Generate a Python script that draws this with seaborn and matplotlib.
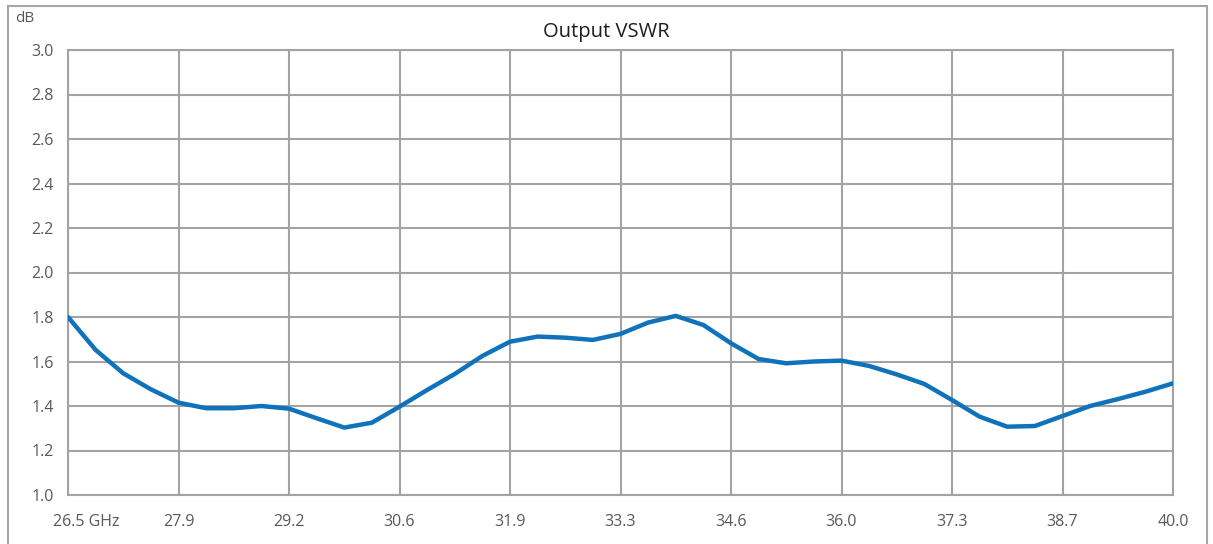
import matplotlib
matplotlib.use("Agg")
import matplotlib.pyplot as plt
from matplotlib.patches import Rectangle
from matplotlib.transforms import ScaledTranslation
import seaborn as sns
import pandas as pd

# frequency labels shown on the x axis (category positions 0..10)
freq_labels = ["26.5 GHz", "27.9", "29.2", "30.6", "31.9", "33.3",
               "34.6", "36.0", "37.3", "38.7", "40.0"]

# curve at quarter-category steps
positions = [i / 4 for i in range(41)]
vswr = [1.80, 1.652, 1.547, 1.475, 1.415, 1.39, 1.39, 1.40, 1.388, 1.345,
        1.303, 1.325, 1.397, 1.472, 1.544, 1.625, 1.689, 1.712, 1.707, 1.697,
        1.724, 1.775, 1.805, 1.764, 1.682, 1.611, 1.592, 1.60, 1.604, 1.58,
        1.542, 1.499, 1.427, 1.352, 1.307, 1.31, 1.355, 1.40, 1.431, 1.464,
        1.502]

y_ticks = [1.0, 1.2, 1.4, 1.6, 1.8, 2.0, 2.2, 2.4, 2.6, 2.8, 3.0]

df = pd.DataFrame({"pos": positions, "vswr": vswr})

sns.set_style("white")
plt.rcParams["font.family"] = ["Open Sans", "DejaVu Sans"]

fig = plt.figure(figsize=(12.13, 5.44), dpi=100)
ax = fig.add_axes([68 / 1213, 1 - 495 / 544, (1173 - 68) / 1213, (495 - 50) / 544])

grid_col = "#a3a3a3"
text_col = "#595959"

sns.lineplot(data=df, x="pos", y="vswr", ax=ax, color="#0f72bb", linewidth=3.2,
             solid_capstyle="round", solid_joinstyle="round", zorder=3)

ax.set_xlim(0, 10)
ax.set_ylim(1.0, 3.0)
ax.set_xticks(range(len(freq_labels)))
ax.set_xticklabels(freq_labels)
ax.set_yticks(y_ticks)
ax.set_yticklabels([f"{v:.1f}" for v in y_ticks])
ax.grid(True, color=grid_col, linewidth=1.5)
ax.set_axisbelow(True)
for s in ax.spines.values():
    s.set_color(grid_col)
    s.set_linewidth(1.5)
ax.tick_params(axis="both", length=0, labelsize=11.5, labelcolor=text_col)
ax.tick_params(axis="x", pad=14)
ax.tick_params(axis="y", pad=10)
ax.set_xlabel("")
ax.set_ylabel("")

# first label sits to the right of its gridline
first = ax.get_xticklabels()[0]
first.set_transform(first.get_transform() + ScaledTranslation(0.18, 0, fig.dpi_scale_trans))

fig.text(606 / 1213, 1 - 32 / 544, "Output VSWR", ha="center", va="center",
         fontsize=14.5, color="#1e1e1e")
fig.text(15 / 1213, 1 - 19 / 544, "dB", ha="left", va="center",
         fontsize=11, color=text_col)

# outer chart border
fig.patches.append(Rectangle((8 / 1213, -0.05), (1207 - 8) / 1213, 1.05 - 6 / 544,
                             transform=fig.transFigure, fill=False,
                             edgecolor="#a6a6a6", linewidth=1.5))

fig.savefig("out.png", dpi=100)
